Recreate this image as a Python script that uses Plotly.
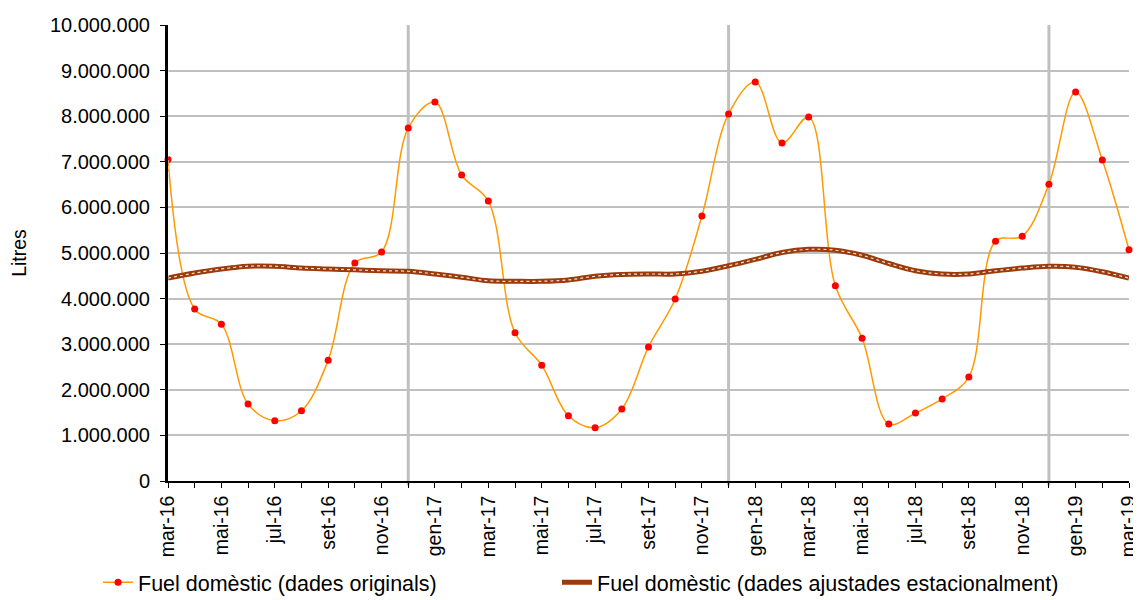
import plotly.graph_objects as go

months = ["mar-16","abr-16","mai-16","jun-16","jul-16","ago-16","set-16","oct-16","nov-16","des-16",
          "gen-17","feb-17","mar-17","abr-17","mai-17","jun-17","jul-17","ago-17","set-17","oct-17","nov-17","des-17",
          "gen-18","feb-18","mar-18","abr-18","mai-18","jun-18","jul-18","ago-18","set-18","oct-18","nov-18","des-18",
          "gen-19","feb-19","mar-19"]

original = [7050000, 3770000, 3440000, 1690000, 1320000, 1540000, 2650000, 4780000, 5020000, 7740000,
            8310000, 6710000, 6140000, 3250000, 2540000, 1430000, 1170000, 1580000, 2940000, 3990000, 5810000, 8050000,
            8750000, 7410000, 7980000, 4280000, 3130000, 1250000, 1490000, 1800000, 2280000, 5260000, 5370000, 6510000,
            8530000, 7040000, 5070000]

adjusted = [4450000, 4560000, 4650000, 4710000, 4710000, 4670000, 4650000, 4630000, 4610000, 4600000,
            4540000, 4470000, 4390000, 4380000, 4380000, 4410000, 4490000, 4530000, 4540000, 4540000, 4600000, 4720000,
            4860000, 5010000, 5080000, 5060000, 4950000, 4770000, 4610000, 4540000, 4540000, 4610000, 4670000, 4710000,
            4690000, 4590000, 4450000]

year_separators = ["des-16", "des-17", "des-18"]
tick_labels = [m if i % 2 == 0 else "" for i, m in enumerate(months)]

FONT = "Liberation Sans, Arial, sans-serif"
W, H = 1133, 592

fig = go.Figure()

fig.add_trace(go.Scatter(
    x=months, y=original, mode="lines+markers",
    name="Fuel domèstic (dades originals)",
    line=dict(color="#FF9900", width=1.5, shape="spline", smoothing=1.0),
    marker=dict(color="#FF0000", size=7),
    legend="legend", cliponaxis=False,
))
fig.add_trace(go.Scatter(
    x=months, y=adjusted, mode="lines",
    name="Fuel domèstic (dades ajustades estacionalment)",
    line=dict(color="#9C3A0A", width=5, shape="spline"),
    legend="legend2",
))
fig.add_trace(go.Scatter(
    x=months, y=adjusted, mode="lines", showlegend=False, hoverinfo="skip",
    line=dict(color="rgba(255,255,255,0.85)", width=1.2, dash="dot", shape="spline"),
))

shapes = []
for m in year_separators:
    shapes.append(dict(type="line", xref="x", yref="paper", x0=m, x1=m, y0=-0.01, y1=1,
                       line=dict(color="#C0C0C0", width=3), layer="below"))
shapes.append(dict(type="line", xref="x", yref="paper", x0=months[0], x1=months[0], y0=0, y1=1,
                   line=dict(color="white", width=1, dash="dot"), layer="above"))
fig.update_layout(shapes=shapes)

legend_common = dict(orientation="h", xref="container", yref="container",
                     y=0.03, xanchor="left", yanchor="middle",
                     font=dict(family=FONT, size=21.5, color="black"),
                     bgcolor="rgba(0,0,0,0)")

fig.update_layout(
    width=W, height=H,
    margin=dict(l=160, r=12, t=17, b=119, autoexpand=False),
    paper_bgcolor="white", plot_bgcolor="white",
    separators=",.",
    font=dict(family=FONT, size=20, color="black"),
    showlegend=True,
    legend=dict(x=90 / W, **legend_common),
    legend2=dict(x=549 / W, **legend_common),
    xaxis=dict(
        type="category", range=[0, len(months) - 1], automargin=False,
        tickmode="array", tickvals=months, ticktext=tick_labels,
        tickangle=-90, ticks="outside", ticklen=5, tickcolor="black", tickwidth=1,
        showline=True, linecolor="black", linewidth=1.5,
        showgrid=False, zeroline=False,
        tickfont=dict(family=FONT, size=19.5, color="black"),
    ),
    yaxis=dict(
        range=[0, 10000000], dtick=1000000, tickformat=",.0f", automargin=False,
        ticks="outside", ticklen=5, tickcolor="black",
        showline=True, linecolor="black", linewidth=3,
        showgrid=True, gridcolor="#C0C0C0", gridwidth=1.5,
        zeroline=False, ticklabelstandoff=6,
        title=dict(text="Litres", font=dict(family=FONT, size=19.5, color="black"), standoff=20),
        tickfont=dict(family=FONT, size=20, color="black"),
    ),
)

fig.write_html("out.html")
